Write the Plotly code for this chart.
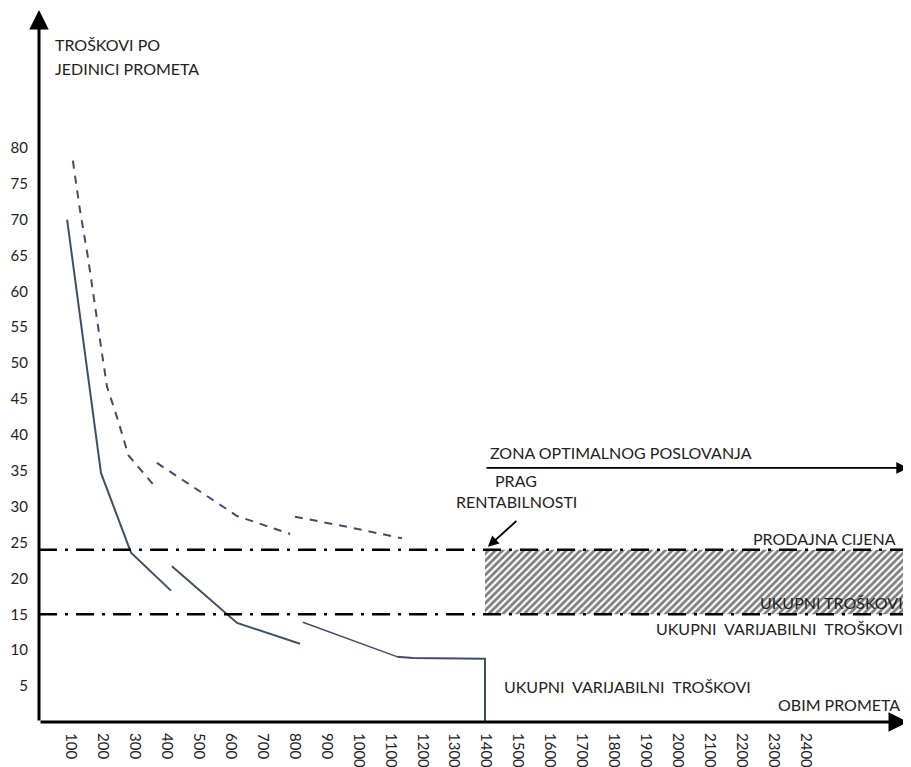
import plotly.graph_objects as go

# ---- data ----
x_ticks = list(range(100, 2500, 100))
y_ticks = list(range(5, 85, 5))

# solid curve (three drawn pieces)
solid1_x = [88, 194, 288, 413]
solid1_y = [70.0, 34.7, 23.6, 18.3]
solid2_x = [416, 620, 817]
solid2_y = [21.7, 13.8, 10.9]
solid3_x = [826, 1120]
solid3_y = [13.9, 9.1]
solid4_x = [1120, 1171, 1396, 1396]
solid4_y = [9.1, 8.9, 8.8, 0.0]

# dashed curve (three drawn pieces)
dash1_x = [106, 128, 153, 175, 197, 213, 244, 275, 279, 363]
dash1_y = [78.2, 71.4, 64.8, 57.8, 51.4, 46.7, 42.5, 37.9, 37.2, 32.8]
dash2_x = [369, 504, 620, 786]
dash2_y = [36.1, 32.1, 28.7, 26.2]
dash3_x = [801, 964, 1136]
dash3_y = [28.6, 27.2, 25.6]

price_level = 24.0      # PRODAJNA CIJENA
varcost_level = 15.0    # UKUPNI VARIJABILNI TROŠKOVI
breakeven_x = 1396
zone_end_x = 2710

X_MAX = 2720
Y_MAX = 99.2

CURVE = "#3f4f66"
TXT = "#222222"
FONT = "Lato"

fig = go.Figure()

# hatched zone
fig.add_trace(go.Scatter(
    x=[breakeven_x, zone_end_x, zone_end_x, breakeven_x, breakeven_x],
    y=[price_level, price_level, varcost_level, varcost_level, price_level],
    mode="lines", fill="toself", line=dict(width=0),
    fillcolor="rgba(0,0,0,0)",
    fillpattern=dict(shape="/", fgcolor="black", bgcolor="white", size=5, solidity=0.55),
    hoverinfo="skip", showlegend=False))

for xs, ys, w in [(solid1_x, solid1_y, 2), (solid2_x, solid2_y, 2),
                  (solid3_x, solid3_y, 1.4), (solid4_x, solid4_y, 2)]:
    fig.add_trace(go.Scatter(x=xs, y=ys, mode="lines",
                             line=dict(color=CURVE, width=w), showlegend=False))

for xs, ys in [(dash1_x, dash1_y), (dash2_x, dash2_y), (dash3_x, dash3_y)]:
    fig.add_trace(go.Scatter(x=xs, y=ys, mode="lines",
                             line=dict(color=CURVE, width=2, dash="8px,7px"), showlegend=False))

# dash-dot horizontal lines
for lvl in (price_level, varcost_level):
    fig.add_shape(type="line", x0=0, x1=X_MAX, y0=lvl, y1=lvl, xref="x", yref="y",
                  line=dict(color="black", width=2.5, dash="18px,8px,3px,8px"))

annotations = []
# axes with arrows
annotations.append(dict(x=0, y=Y_MAX, ax=0, ay=0, xref="x", yref="y", axref="x", ayref="y",
                        showarrow=True, arrowhead=2, arrowsize=1.3, arrowwidth=3,
                        arrowcolor="black", text=""))
annotations.append(dict(x=X_MAX, y=0, ax=0, ay=0, xref="x", yref="y", axref="x", ayref="y",
                        showarrow=True, arrowhead=2, arrowsize=1.3, arrowwidth=3,
                        arrowcolor="black", text=""))
# zone arrow
annotations.append(dict(x=X_MAX, y=35.4, ax=breakeven_x, ay=35.4, xref="x", yref="y",
                        axref="x", ayref="y", showarrow=True, arrowhead=2, arrowsize=1.3,
                        arrowwidth=1.8, arrowcolor="black", text=""))
# breakeven pointer
annotations.append(dict(x=1405, y=24.4, ax=1499, ay=28.2, xref="x", yref="y",
                        axref="x", ayref="y", showarrow=True, arrowhead=2, arrowsize=1.2,
                        arrowwidth=1.8, arrowcolor="black", text=""))

def label(text, x, y, anchor="left", size=16):
    annotations.append(dict(text=text, x=x, y=y, xref="x", yref="y", showarrow=False,
                            xanchor=anchor, yanchor="middle",
                            font=dict(family=FONT, size=size, color=TXT)))

label("TROŠKOVI PO", 44, 94.4)
label("JEDINICI PROMETA", 44, 91.1)
label("ZONA OPTIMALNOG POSLOVANJA", 1405, 37.5)
label("PRAG", 1421, 33.6)
label("RENTABILNOSTI", 1299, 30.7)
label("PRODAJNA CIJENA", 2689, 25.6, "right")
label("UKUPNI TROŠKOVI", 2710, 16.6, "right")
label("UKUPNI  VARIJABILNI  TROŠKOVI", 2710, 13.0, "right")
label("UKUPNI  VARIJABILNI  TROŠKOVI", 1449, 4.9)
label("OBIM PROMETA", 2701, 2.5, "right")

# page body has an 8px margin: size the figure so the plot lands where the reference has it
fig.update_layout(
    width=903, height=759,
    margin=dict(l=31, r=3, t=2, b=45),
    paper_bgcolor="white", plot_bgcolor="white",
    showlegend=False,
    annotations=annotations,
    xaxis=dict(range=[0, X_MAX], tickvals=x_ticks, ticktext=[str(v) for v in x_ticks],
               tickangle=90, tickfont=dict(family=FONT, size=15, color=TXT),
               showgrid=False, zeroline=False, showline=False, ticks="",
               ticklabelstandoff=10, automargin=False, fixedrange=True),
    yaxis=dict(range=[0, Y_MAX], tickvals=y_ticks, ticktext=[str(v) for v in y_ticks],
               tickfont=dict(family=FONT, size=15, color=TXT),
               showgrid=False, zeroline=False, showline=False, ticks="",
               ticklabelstandoff=10, automargin=False, fixedrange=True),
)

fig.write_html("out.html")
